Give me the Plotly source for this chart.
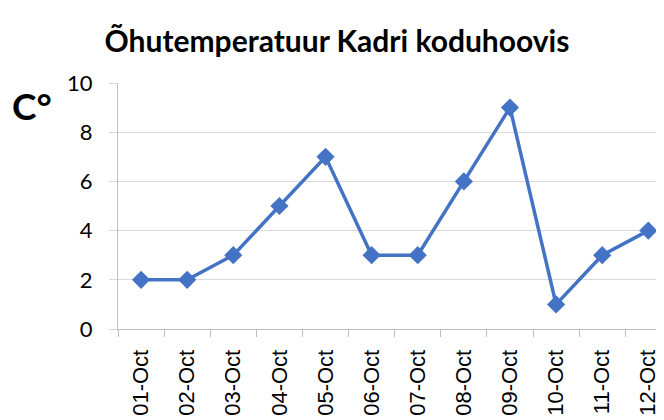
import plotly.graph_objects as go

categories = ["01-Oct", "02-Oct", "03-Oct", "04-Oct", "05-Oct", "06-Oct",
              "07-Oct", "08-Oct", "09-Oct", "10-Oct", "11-Oct", "12-Oct"]
temps = [2, 2, 3, 5, 7, 3, 3, 6, 9, 1, 3, 4]
y_ticks = [0, 2, 4, 6, 8, 10]

# page body has an 8px margin, so the figure is offset by 8px
OFF = 8
W, H = 664 - OFF, 420 - OFF
L, T, B = 118 - OFF, 83 - OFF, 420 - 329
PW = W - L

fig = go.Figure()
fig.add_trace(go.Scatter(
    x=categories, y=temps, mode="lines+markers",
    line=dict(color="#4472C4", width=3.5),
    marker=dict(symbol="diamond", size=14, color="#4472C4"),
    showlegend=False, cliponaxis=False,
))

fig.update_layout(
    width=W, height=H,
    margin=dict(l=L, r=0, t=T, b=B),
    paper_bgcolor="white", plot_bgcolor="white",
    title=dict(text="<b>Õhutemperatuur Kadri koduhoovis</b>",
               x=(337 - 118) / PW, xanchor="center", xref="paper",
               y=1 - (41 - OFF) / H, yanchor="middle", yref="container",
               font=dict(family="Lato", size=30, color="black")),
    annotations=[dict(text="<b>C°</b>", xref="paper", yref="paper",
                      x=(10 - 118) / PW, y=1 - 22 / 246,
                      xanchor="left", yanchor="middle",
                      showarrow=False,
                      font=dict(family="Lato", size=37, color="black"))],
)

fig.update_xaxes(
    type="category", range=[-0.5, 11.34], automargin=False,
    tickson="boundaries", ticks="outside", ticklen=7, tickcolor="#bfbfbf",
    showline=True, linecolor="#bfbfbf", linewidth=1,
    showgrid=False, tickangle=-90, ticksuffix="\u2002",
    tickfont=dict(family="Liberation Sans", size=22, color="black"),
)
fig.update_yaxes(
    range=[0, 10], tickvals=y_ticks, ticks="outside", ticklen=8,
    automargin=False, ticklabelstandoff=12,
    tickcolor="#d9d9d9", showgrid=True, gridcolor="#d9d9d9", gridwidth=1,
    showline=True, linecolor="#bfbfbf", linewidth=1, zeroline=False,
    tickfont=dict(family="Lato", size=22, color="black"),
)

fig.write_html("out.html")
